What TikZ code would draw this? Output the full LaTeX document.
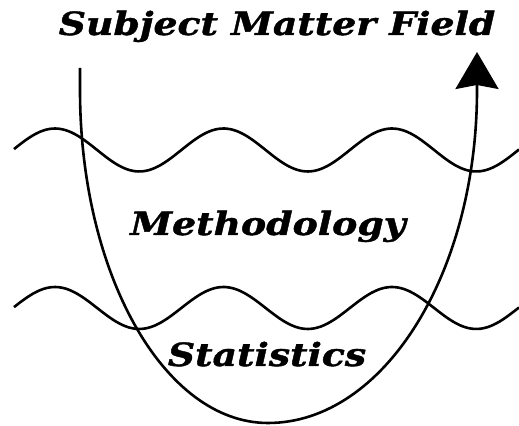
\documentclass[tikz,border=0pt]{standalone}
\usepackage{fontspec}
\usepackage{graphicx}
\newfontface\tagfont{DejaVu Serif Bold Italic}[FakeBold=1.2]
\newcommand{\widetag}[1]{\scalebox{1.18}[1]{#1}}
\usepackage{tikz}
\usetikzlibrary{arrows.meta, positioning}

\begin{document}
\begin{tikzpicture}[x=0.5pt, y=0.5pt, >=Stealth,
    layer/.style={font=\tagfont\fontsize{16}{18}\selectfont, inner sep=0pt, anchor=base},
    wave/.style={line width=1.3pt, line join=round}]
    \useasboundingbox (0,0) rectangle (519,426);
    % Boundaries between the layers (same wave, shifted down)
    \draw[wave] plot[smooth, domain=14:519, samples=80]
        (\x, {276 + 21.5*cos((\x-55)/168.5*360)});
    \draw[wave] plot[smooth, domain=14:519, samples=80]
        (\x, {118 + 21*cos((\x-55)/168.5*360)});
    % Path down into statistics and back up
    \coordinate (start) at (80,358);
    \coordinate (top) at (477,374);
    \draw[line width=1.3pt, -{Stealth[length=18.5pt, width=21.5pt, inset=2pt]}]
        (start) -- (80,336)
        arc[start angle=180, end angle=270, x radius=188, y radius=333]
        arc[start angle=270, end angle=360, x radius=209, y radius=333]
        -- (top);
    % Labels
    \node[layer] (field) at (277,391) {\widetag{Subject Matter Field}};
    \node[layer] (method) at (268,191) {\widetag{Methodology}};
    \node[layer] (stats) at (267,60) {\widetag{Statistics}};
\end{tikzpicture}
\end{document}
